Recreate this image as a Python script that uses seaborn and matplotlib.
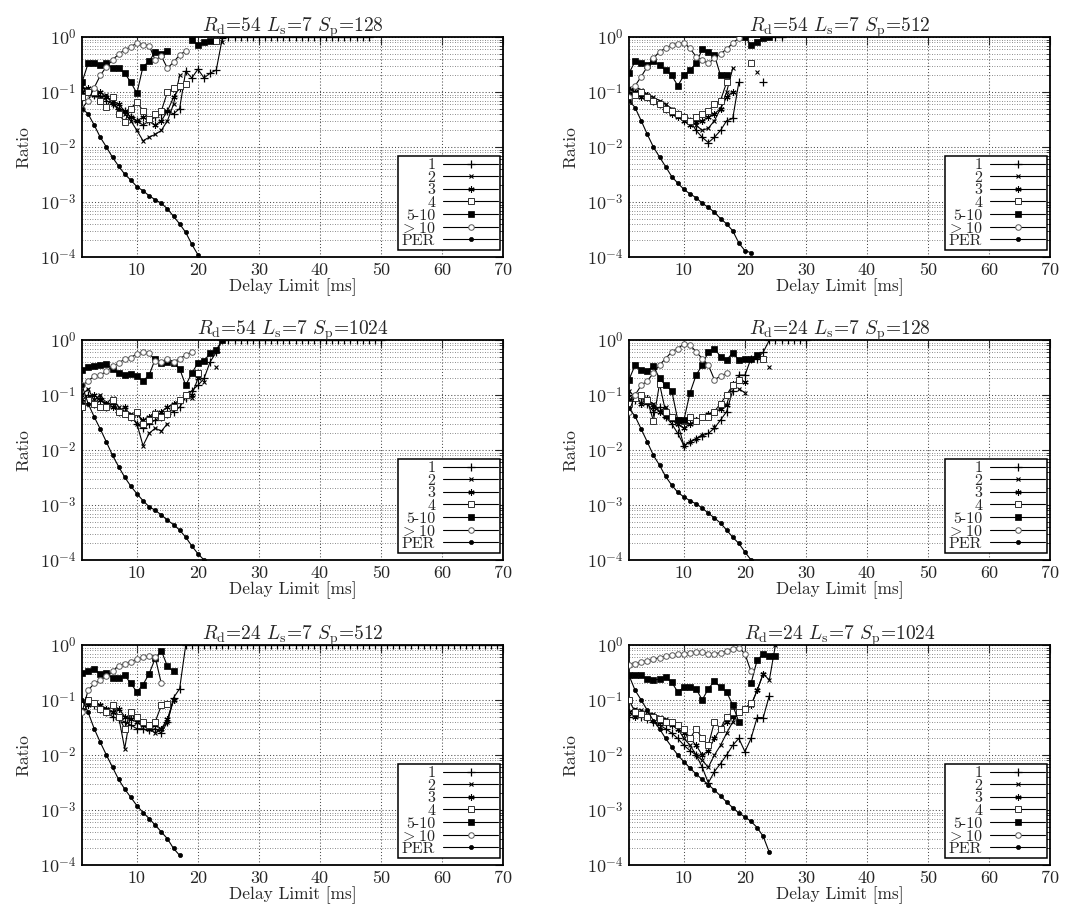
"""
Loss-burst ratio vs. delay limit, six configurations (Rd, Ls, Sp).
"""

import matplotlib
matplotlib.use('Agg')
import matplotlib.pyplot as plt
from matplotlib.lines import Line2D
from matplotlib.ticker import LogLocator, FixedLocator, FuncFormatter, NullFormatter
import seaborn as sns
import numpy as np
import pandas as pd

sns.set_style('white')
plt.rcParams['font.family'] = ['cmr10', 'DejaVu Serif']
plt.rcParams['mathtext.fontset'] = 'cm'
plt.rcParams['axes.formatter.use_mathtext'] = True

# delay limit grid [ms] shared by all series (index 0 -> 1 ms)
DELAY = list(range(1, 71))
SERIES = ['1', '2', '3', '4', '5-10', '>10', 'PER']
LABELS = ['1', '2', '3', '4', '5-10', r'${>}$10', 'PER']

# panel titles (Rd, Ls, Sp)
TITLES = [(54, 7, 128), (54, 7, 512), (54, 7, 1024),
          (24, 7, 128), (24, 7, 512), (24, 7, 1024)]

# series "1" stays at ratio 1 (top border) from .. to .. [ms]
SAT_1 = [(25, 48), (25, 26), (24, 50), (24, 30), (18, 70), None]

N = None

# --- Rd=54 Sp=128 ---
a_1 = [0.12, 0.1, 0.09, 0.085, 0.07, 0.06, 0.05, 0.045, 0.035, 0.03, 0.025, 0.03, 0.035,
       0.04, 0.045, 0.04, 0.05, 0.24, 0.18, 0.26, 0.18, 0.22, 0.25, 0.95]
a_2 = [0.13, 0.1, 0.12, 0.08, 0.09, 0.06, 0.05, 0.04, 0.03, 0.02, 0.013, 0.015, 0.017,
       0.02, 0.03, 0.06, 0.2, N, N, N, N, N, N, 0.8]
a_3 = [0.1, 0.12, 0.09, 0.1, 0.08, 0.07, 0.06, 0.045, 0.035, 0.03, 0.035, 0.03, 0.025,
       0.03, 0.045, 0.08, 0.12]
a_4 = [0.08, 0.1, 0.1, 0.07, 0.054, 0.08, 0.04, 0.029, 0.05, 0.067, 0.045, 0.032, 0.04,
       0.045, 0.1, 0.12, 0.13, 0.14, N, N, N, N, 0.85]
a_5 = [0.15, 0.33, 0.33, 0.31, 0.33, 0.27, 0.27, 0.22, 0.15, 0.095, 0.29, 0.36, 0.54,
       0.5, 0.56, N, N, N, 0.88, 0.72, 0.8, 0.86]
a_6 = [0.05, 0.07, 0.12, 0.2, 0.29, 0.38, 0.49, 0.58, 0.67, 0.77, 0.72, 0.7, 0.38,
       0.45, 0.27, 0.35, 0.47, 0.56]
a_per = [0.05, 0.04, 0.025, 0.015, 0.01, 0.0065, 0.0045, 0.0032, 0.0025, 0.0019, 0.0016,
         0.0013, 0.0011, 0.00095, 0.00075, 0.00055, 0.0004, 0.00028, 0.00017, 0.00011]

# --- Rd=54 Sp=512 ---
b_1 = [0.1, 0.12, 0.09, 0.08, 0.07, 0.06, 0.05, 0.045, 0.04, 0.035, 0.03, 0.02, 0.015,
       0.012, 0.015, 0.02, 0.03, 0.033, 0.15, N, N, N, 0.15]
b_2 = [0.12, 0.1, 0.11, 0.09, 0.08, 0.07, 0.06, 0.05, 0.04, 0.035, 0.03, 0.025, 0.02,
       0.022, 0.03, 0.05, 0.1, 0.27, N, N, N, 0.23]
b_3 = [0.09, 0.1, 0.08, 0.09, 0.07, 0.06, 0.05, 0.04, 0.035, 0.03, 0.025, 0.028, 0.03,
       0.035, 0.04, 0.05, 0.08, 0.1]
b_4 = [0.07, 0.09, 0.1, 0.08, 0.07, 0.06, 0.05, 0.045, 0.04, 0.035, 0.03, 0.035, 0.04,
       0.045, 0.06, 0.07, 0.15, N, N, N, 0.33]
b_5 = [0.22, 0.36, 0.34, 0.31, 0.36, 0.31, 0.25, 0.2, 0.13, 0.2, 0.25, 0.33, 0.6, 0.54,
       0.47, 0.2, 0.2, N, N, 1.0, 0.72, 0.82, 0.94, 1.0]
b_6 = [0.08, 0.13, 0.19, 0.29, 0.41, 0.54, 0.62, 0.72, 0.75, 0.79, 0.62, 0.44, 0.38,
       0.33, 0.41, 0.5, 0.6, 0.78, 0.95]
b_per = [0.07, 0.052, 0.03, 0.017, 0.01, 0.0066, 0.0044, 0.0029, 0.0022, 0.0017, 0.0014,
         0.0012, 0.00095, 0.0008, 0.00065, 0.0005, 0.0004, 0.0003, 0.00018, 0.00013, 0.00012]

# --- Rd=54 Sp=1024 ---
c_1 = [0.08, 0.1, 0.07, 0.09, 0.06, 0.07, 0.05, 0.05, 0.04, 0.03, 0.025, 0.03, 0.035,
       0.04, 0.045, 0.05, 0.06, 0.09, 0.12, 0.15, 0.2, 0.4, 0.6]
c_2 = [0.1, 0.13, 0.08, 0.1, 0.07, 0.09, 0.06, 0.05, 0.045, 0.03, 0.012, 0.02, 0.025,
       0.022, 0.03, N, N, N, 0.09, N, 0.17, N, 0.32]
c_3 = [0.07, 0.09, 0.1, 0.08, 0.07, 0.06, 0.05, 0.06, 0.04, 0.045, 0.035, 0.04, 0.05,
       0.05, 0.06, 0.07, 0.08, 0.1, 0.1, 0.2]
c_4 = [0.06, 0.08, 0.07, 0.06, 0.06, 0.08, 0.05, 0.045, 0.04, 0.05, 0.03, 0.035, 0.045,
       0.04, 0.045, 0.06, 0.08, 0.1, N, 0.25]
c_5 = [0.28, 0.32, 0.34, 0.35, 0.36, 0.3, 0.25, 0.23, 0.24, 0.22, 0.18, 0.23, 0.45, 0.38,
       0.39, 0.38, 0.3, 0.15, 0.25, 0.38, 0.42, 0.57, 0.66, 1.0]
c_6 = [0.15, 0.18, 0.22, 0.23, 0.27, 0.33, 0.38, 0.45, 0.48, 0.56, 0.61, 0.58, 0.42, 0.4,
       0.45, 0.4, 0.46, 0.53, 0.61]
c_per = [0.15, 0.07, 0.04, 0.024, 0.014, 0.008, 0.005, 0.0032, 0.0022, 0.0016, 0.0012,
         0.00093, 0.0008, 0.00066, 0.00053, 0.00044, 0.00035, 0.00026, 0.00018, 0.00013, 0.0001]

# --- Rd=24 Sp=128 ---
d_1 = [0.1, 0.08, 0.09, 0.07, 0.05, 0.06, 0.04, 0.03, 0.02, 0.012, 0.014, 0.016, 0.018,
       0.02, 0.025, 0.035, 0.05, 0.12, 0.23, 0.23, 0.46, 0.46, 0.6]
d_2 = [0.12, 0.09, 0.1, 0.08, 0.07, 0.05, 0.06, 0.04, 0.03, 0.012, 0.014, 0.016, 0.019,
       N, 0.026, N, N, N, 0.13, 0.11, N, N, N, 0.32]
d_3 = [0.08, 0.1, 0.07, 0.09, 0.06, 0.05, 0.04, 0.035, 0.03, 0.025, 0.03, 0.035, 0.04,
       0.045, 0.05, 0.055, 0.066, 0.16, N, 0.17]
d_4 = [0.07, 0.09, 0.1, 0.08, 0.034, 0.16, 0.05, 0.04, 0.035, 0.034, 0.04, 0.034, 0.039,
       0.04, 0.05, 0.07, 0.1, 0.15, 0.19, N, N, N, 0.46]
d_5 = [0.19, 0.35, 0.29, 0.27, 0.34, 0.2, 0.15, 0.12, 0.035, 0.035, 0.11, 0.23, 0.35,
       0.61, 0.7, 0.5, 0.43, 0.59, 0.43, 0.46, 0.46, 0.53]
d_6 = [0.05, 0.1, 0.15, 0.18, 0.25, 0.35, 0.46, 0.61, 0.7, 0.85, 0.81, 0.61, 0.46, 0.35,
       0.19, 0.22, 0.25]
d_per = [0.057, 0.041, 0.024, 0.014, 0.008, 0.0053, 0.0033, 0.0023, 0.0017, 0.0014, 0.0012,
         0.00105, 0.00088, 0.00071, 0.00058, 0.00047, 0.00035, 0.00026, 0.0002, 0.00014, 0.0001]

# --- Rd=24 Sp=512 ---
e_1 = [0.07, 0.09, 0.08, 0.07, 0.06, 0.05, 0.045, 0.04, 0.035, 0.03, 0.03, 0.028, 0.03,
       0.025, 0.04, 0.11, 0.16]
e_2 = [0.06, 0.1, 0.09, 0.08, 0.07, 0.06, 0.05, 0.013, 0.06, 0.04, 0.035, 0.03, 0.025,
       0.03, 0.04, 0.1]
e_3 = [0.07, 0.08, 0.09, 0.08, 0.07, 0.06, 0.07, 0.05, 0.045, 0.04, 0.035, 0.03, 0.035,
       0.03, 0.045, 0.1]
e_4 = [0.08, 0.1, 0.09, 0.07, 0.06, 0.08, 0.05, 0.03, 0.06, 0.05, 0.04, 0.035, 0.04,
       0.08, 0.085]
e_5 = [0.31, 0.33, 0.36, 0.3, 0.31, 0.25, 0.25, 0.28, 0.2, 0.14, 0.19, 0.3, 0.57, 0.79,
       0.41, 0.33]
e_6 = [0.06, 0.15, 0.2, 0.23, 0.27, 0.33, 0.42, 0.46, 0.5, 0.55, 0.6, 0.63, 0.6, 0.2]
e_per = [0.1, 0.06, 0.03, 0.017, 0.01, 0.006, 0.0036, 0.0024, 0.0017, 0.0012, 0.0009,
         0.0007, 0.00053, 0.0004, 0.0003, 0.0002, 0.00015]

# --- Rd=24 Sp=1024 ---
f_1 = [0.05, 0.06, 0.05, 0.045, 0.04, 0.035, 0.03, 0.025, 0.02, 0.015, 0.012, 0.01, 0.006,
       0.0031, 0.005, 0.007, 0.01, 0.015, 0.02, 0.0115, 0.02, 0.048, 0.048, 0.12]
f_2 = [0.06, 0.07, 0.065, 0.06, 0.055, 0.05, 0.045, 0.04, 0.03, 0.02, 0.015, 0.01, 0.008,
       0.006, 0.01, 0.015, 0.025, 0.04, 0.06, 0.07, 0.08, 0.15, 0.3, 0.23, 1.0]
f_3 = [0.06, 0.05, 0.055, 0.05, 0.045, 0.04, 0.04, 0.035, 0.03, 0.025, 0.02, 0.015, 0.01,
       0.012, 0.02, 0.03, 0.04, 0.05, 0.06, 0.07, 0.08, 0.15, 0.3]
f_4 = [0.1, 0.06, 0.055, 0.05, 0.05, 0.045, 0.04, 0.04, 0.035, 0.03, 0.02, 0.03, 0.02,
       0.015, 0.04, 0.03, 0.05, 0.06, 0.06, 0.07, 0.09]
f_5 = [0.29, 0.28, 0.28, 0.24, 0.23, 0.24, 0.26, 0.21, 0.14, 0.17, 0.17, 0.16, 0.1, 0.16,
       0.22, 0.17, 0.14, 0.081, 0.04, N, 0.2, 0.53, 0.69, 0.63, 0.63]
f_6 = [0.43, 0.46, 0.49, 0.52, 0.55, 0.59, 0.63, 0.66, 0.68, 0.7, 0.72, 0.75, 0.74, 0.7,
       0.69, 0.73, 0.78, 0.83, 0.9, 0.69, 0.33]
f_per = [0.28, 0.15, 0.1, 0.065, 0.042, 0.03, 0.02, 0.014, 0.01, 0.0075, 0.0058, 0.0045,
         0.0036, 0.0029, 0.0023, 0.0018, 0.0014, 0.0011, 0.00088, 0.00075, 0.00062, 0.00048,
         0.00033, 0.00017]

PANELS = [
    [a_1, a_2, a_3, a_4, a_5, a_6, a_per],
    [b_1, b_2, b_3, b_4, b_5, b_6, b_per],
    [c_1, c_2, c_3, c_4, c_5, c_6, c_per],
    [d_1, d_2, d_3, d_4, d_5, d_6, d_per],
    [e_1, e_2, e_3, e_4, e_5, e_6, e_per],
    [f_1, f_2, f_3, f_4, f_5, f_6, f_per],
]

STYLE = {
    '1':    dict(marker='+', ms=6, mew=0.9, mfc='k', mec='k'),
    '2':    dict(marker='x', ms=3.5, mew=0.8, mfc='k', mec='k'),
    '3':    dict(marker=(6, 2, 0), ms=4.5, mew=0.8, mfc='k', mec='k'),
    '4':    dict(marker='s', ms=4, mew=0.7, mfc='white', mec='0.2'),
    '5-10': dict(marker='s', ms=5, mew=0.5, mfc='k', mec='k'),
    '>10':  dict(marker='o', ms=4, mew=0.7, mfc='white', mec='0.35'),
    'PER':  dict(marker='o', ms=3, mew=0.5, mfc='k', mec='k'),
}


def to_frame(values, name, sat=None):
    rows = []
    seg = 0
    for d, v in zip(DELAY, values):
        if v is None:
            seg += 1
            continue
        rows.append((d, v, f'{name}_{seg}'))
    if sat is not None:
        # continuation along the top border (ratio 1)
        last = values[-1] if values else None
        if last is None or DELAY[len(values) - 1] != sat[0] - 1:
            seg += 1
        for d in DELAY:
            if sat[0] <= d <= sat[1]:
                rows.append((d, 1.0, f'{name}_{seg}'))
    return pd.DataFrame(rows, columns=['Delay', 'Ratio', 'seg'])


fig = plt.figure(figsize=(10.72, 9.15), dpi=100)
W, H = 1072, 915
col_left = [82, 629]
ax_w = 421
row_top = [37, 340, 645]
ax_h = 220

for i, (series_vals, title) in enumerate(zip(PANELS, TITLES)):
    r, c = divmod(i, 2)
    x0 = col_left[c] / W
    y0 = 1 - (row_top[r] + ax_h) / H
    ax = fig.add_axes([x0, y0, ax_w / W, ax_h / H])

    for k, (name, vals) in enumerate(zip(SERIES, series_vals)):
        sat = SAT_1[i] if name == '1' else None
        df = to_frame(vals, name, sat)
        st = STYLE[name]
        sns.lineplot(data=df, x='Delay', y='Ratio', units='seg', estimator=None,
                     color='k', lw=0.8, legend=False, ax=ax,
                     marker=st['marker'], markersize=st['ms'], markeredgewidth=st['mew'],
                     markerfacecolor=st['mfc'], markeredgecolor=st['mec'],
                     zorder=3 + k * 0.1)

    ax.set_yscale('log')
    ax.set_ylim(1e-4, 1)
    ax.set_xlim(1, 70)
    ax.xaxis.set_major_locator(FixedLocator([10, 20, 30, 40, 50, 60, 70]))
    ax.xaxis.set_major_formatter(FuncFormatter(lambda v, p: f'{int(v)}'))
    ax.yaxis.set_major_locator(LogLocator(base=10, numticks=10))
    ax.yaxis.set_minor_locator(LogLocator(base=10, subs=np.arange(2, 10), numticks=20))
    ax.yaxis.set_minor_formatter(NullFormatter())
    ax.yaxis.set_major_formatter(FuncFormatter(lambda v, p: r'$10^{%d}$' % round(np.log10(v))))

    ax.grid(which='major', axis='both', ls=(0, (1, 2)), color='0.3', lw=0.75)
    ax.grid(which='minor', axis='y', ls=(0, (1, 2)), color='0.4', lw=0.6)
    ax.tick_params(which='both', direction='in', top=True, right=True, labelsize=13)
    ax.tick_params(which='major', length=6, width=0.8, pad=4)
    ax.tick_params(which='minor', length=3, width=0.6)
    for sp in ax.spines.values():
        sp.set_linewidth(1.3)
        sp.set_color('k')

    rd, ls, sp_ = title
    ax.set_title(r'$R_\mathrm{d}$=%d $L_\mathrm{s}$=%d $S_\mathrm{p}$=%d' % (rd, ls, sp_),
                 fontsize=14, pad=4)
    ax.set_xlabel('Delay Limit [ms]', fontsize=12.5, labelpad=0)
    ax.set_ylabel('Ratio', fontsize=12.5, labelpad=6)

    handles = [Line2D([0], [0], color='k', lw=0.8, marker=STYLE[s]['marker'],
                      markersize=STYLE[s]['ms'], markeredgewidth=STYLE[s]['mew'],
                      markerfacecolor=STYLE[s]['mfc'], markeredgecolor=STYLE[s]['mec'])
               for s in SERIES]
    leg = ax.legend(handles, LABELS, loc='lower right', bbox_to_anchor=(0.993, 0.03),
                    markerfirst=False, frameon=True, fancybox=False, framealpha=1,
                    edgecolor='k', fontsize=11.5, labelspacing=-0.1, handlelength=3.4,
                    handletextpad=0.5, borderpad=0.15, borderaxespad=0.0)
    leg.get_frame().set_linewidth(1.1)

fig.savefig('out.png', dpi=100)
